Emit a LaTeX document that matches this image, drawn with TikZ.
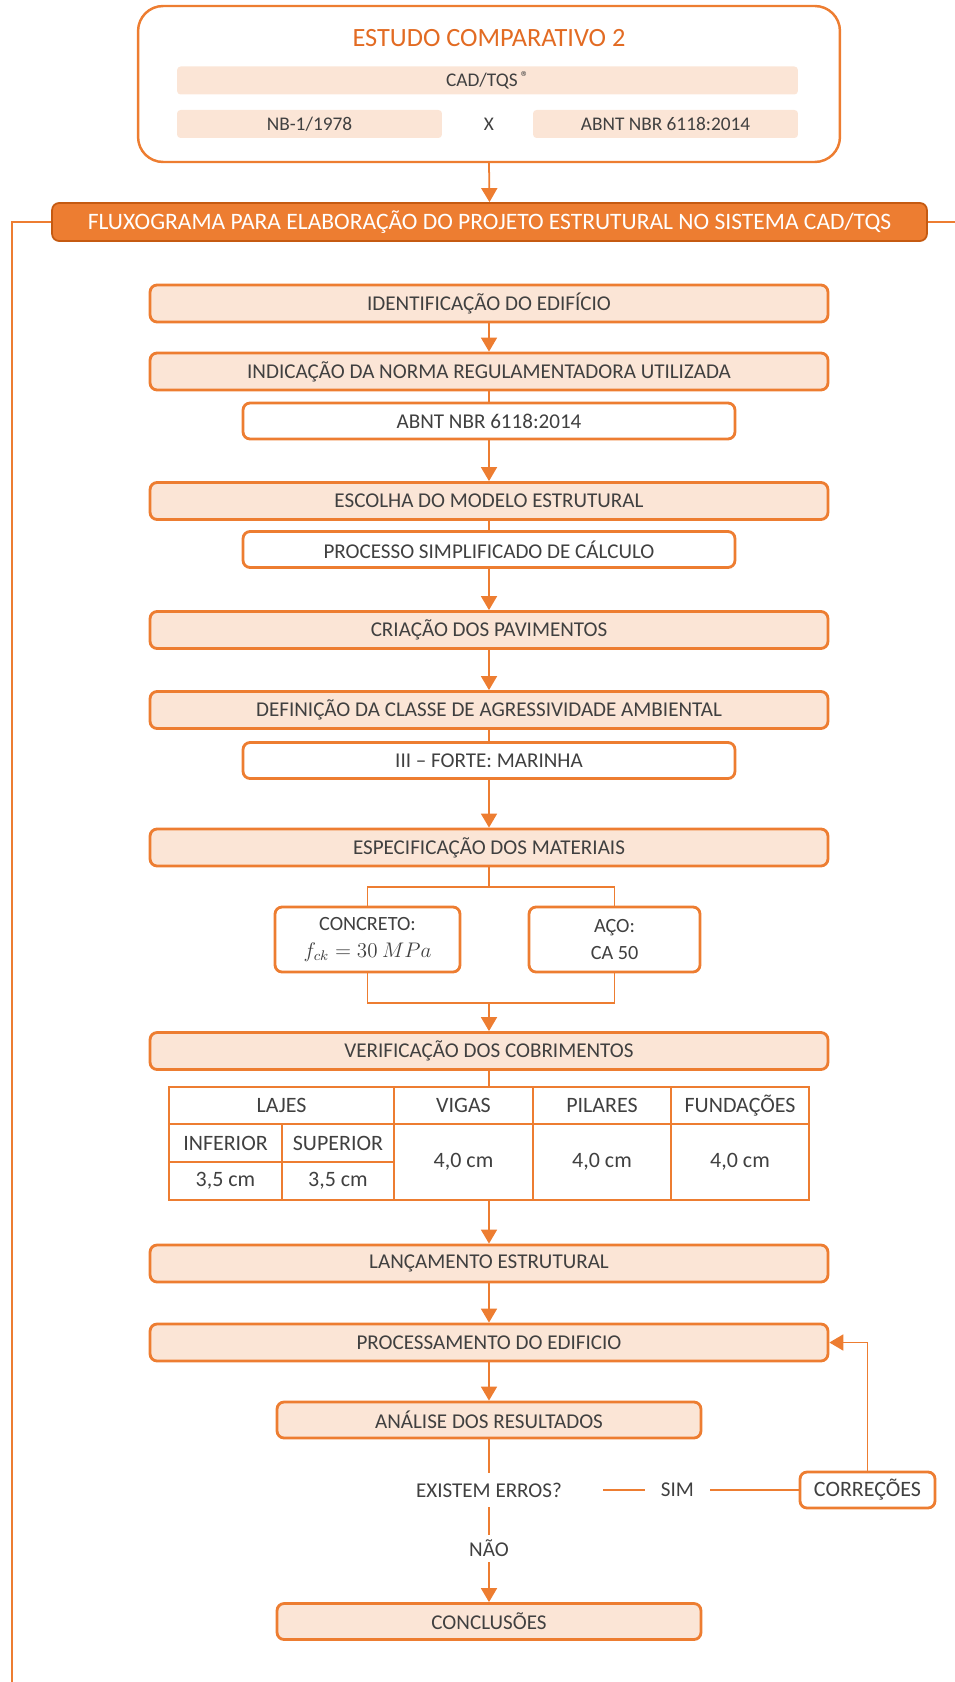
\documentclass[tikz,border=0pt]{standalone}
\usepackage{fontspec}
\setmainfont{Carlito}
\usetikzlibrary{arrows.meta}

\begin{document}
\begin{tikzpicture}[x=0.02cm, y=-0.02cm,
    linha/.style={draw=laranja, line width=1pt},
    seta/.style={linha, -{Triangle[width=0.32cm, length=0.28cm]}},
    trilho/.style={draw=laranja, line width=1.2pt},
    etapa/.style={draw=laranja, fill=laranjaclaro, line width=1.6pt, rounded corners=4pt,
        minimum width=13.56cm, minimum height=0.74cm, inner sep=0pt,
        text=textocinza, font=\fontsize{12}{14}\selectfont},
    subetapa/.style={etapa, fill=white, minimum width=9.84cm, minimum height=0.72cm},
    curta/.style={etapa, minimum width=8.48cm, minimum height=0.72cm},
    material/.style={etapa, fill=white, minimum height=1.3cm, align=center,
        font=\fontsize{11.5}{15}\selectfont},
    faixa/.style={fill=laranjaclaro, rounded corners=2pt, minimum height=0.56cm,
        inner sep=0pt, text=textocinza, font=\fontsize{11}{13}\selectfont},
    rotulo/.style={inner sep=0pt, text=textocinza, font=\fontsize{12}{14}\selectfont},
    celula/.style={inner sep=0pt, text=textocinza, font=\fontsize{12.5}{15}\selectfont},
    grade/.style={draw=laranja, line width=1.6pt}]

    % Define colors
    \definecolor{laranja}{RGB}{237,125,49}        % borders and lines
    \definecolor{laranjaclaro}{RGB}{251,229,214}  % light fill
    \definecolor{laranjaescuro}{RGB}{197,90,17}   % title bar border
    \definecolor{laranjatexto}{RGB}{226,107,35}   % heading text
    \definecolor{textocinza}{RGB}{64,64,64}       % box text

    \useasboundingbox (0,0) rectangle (955,1682);

    % Comparative study box
    \node[draw=laranja, line width=1.4pt, rounded corners=0.5cm,
        minimum width=14.04cm, minimum height=3.12cm] (topo) at (489,84) {};
    \node[text=laranjatexto, font=\fontsize{15}{18}\selectfont] (estudo) at (489,38) {ESTUDO COMPARATIVO 2};
    \node[faixa, minimum width=12.42cm] (cadtqs) at (487.5,80.5) {CAD/TQS\,\raisebox{0.5ex}{\small ®}};
    \node[faixa, minimum width=5.3cm] (nbum) at (309.5,124) {NB-1/1978};
    \node[rotulo, font=\fontsize{11}{13}\selectfont] (versus) at (489,124) {X};
    \node[faixa, minimum width=5.3cm] (nbr) at (665.5,124) {ABNT NBR 6118:2014};

    % Flowchart title bar and side rails
    \node[draw=laranjaescuro, fill=laranja, line width=1pt, rounded corners=4pt,
        minimum width=17.5cm, minimum height=0.76cm, inner sep=0pt,
        text=white, font=\fontsize{13.4}{15}\selectfont] (fluxo) at (489.5,222)
        {FLUXOGRAMA PARA ELABORAÇÃO DO PROJETO ESTRUTURAL NO SISTEMA CAD/TQS};
    \coordinate (trilhoesq) at (12,222);
    \coordinate (trilhofim) at (12,1682);
    \coordinate (trilhodir) at (955,222);
    \draw[trilho] (fluxo.west) -- (trilhoesq) -- (trilhofim);
    \draw[trilho] (fluxo.east) -- (trilhodir);

    % Main steps
    \foreach \nome/\y/\texto in {ident/303.5/IDENTIFICAÇÃO DO EDIFÍCIO,
        indic/371.5/INDICAÇÃO DA NORMA REGULAMENTADORA UTILIZADA,
        escolha/501/ESCOLHA DO MODELO ESTRUTURAL,
        criacao/630/CRIAÇÃO DOS PAVIMENTOS,
        defin/710/DEFINIÇÃO DA CLASSE DE AGRESSIVIDADE AMBIENTAL,
        espec/847.5/ESPECIFICAÇÃO DOS MATERIAIS,
        verif/1051/VERIFICAÇÃO DOS COBRIMENTOS,
        lanc/1263.5/LANÇAMENTO ESTRUTURAL,
        proc/1342.5/PROCESSAMENTO DO EDIFICIO}
        {
        \node[etapa] (\nome) at (489,\y) {\texto};
    }

    % Chosen options
    \foreach \nome/\y/\texto in {abnt/421/ABNT NBR 6118:2014,
        simpl/549.5/PROCESSO SIMPLIFICADO DE CÁLCULO,
        classe/760.5/III – FORTE: MARINHA}
        {
        \node[subetapa] (\nome) at (489,\y) {\texto};
    }

    % Materials
    \node[material, minimum width=3.7cm] (concreto) at (367.5,939.5) {CONCRETO:\\$f_{ck} = 30\ MPa$};
    \node[material, minimum width=3.42cm] (aco) at (614.5,939.5) {AÇO:\\CA 50};
    \coordinate (ramo) at (489,887);
    \coordinate (junta) at (489,1003);

    % Cover table
    \node[draw=laranja, line width=1.6pt, minimum width=12.8cm, minimum height=2.26cm,
        inner sep=0pt] (tabela) at (489,1143.5) {};
    \draw[grade] (169,1124) -- (809,1124);
    \draw[grade] (169,1162) -- (394,1162);
    \draw[grade] (282,1124) -- (282,1200);
    \foreach \x in {394,533,671}
        {
        \draw[grade] (\x,1087) -- (\x,1200);
    }
    \foreach \nome/\x/\y/\texto in {lajes/281.5/1105.5/LAJES, vigas/463.5/1105.5/VIGAS,
        pilares/602/1105.5/PILARES, fundacoes/740/1105.5/FUNDAÇÕES,
        inferior/225.5/1143/INFERIOR, superior/338/1143/SUPERIOR,
        lajeinf/225.5/1181/{3,5 cm}, lajesup/338/1181/{3,5 cm},
        cobvigas/463.5/1162/{4,0 cm}, cobpilares/602/1162/{4,0 cm},
        cobfund/740/1162/{4,0 cm}}
        {
        \node[celula] (\nome) at (\x,\y) {\texto};
    }

    % Analysis and conclusion
    \node[curta] (analise) at (489,1420) {ANÁLISE DOS RESULTADOS};
    \node[rotulo, minimum width=4.56cm, minimum height=0.68cm] (erros) at (489,1490) {EXISTEM ERROS?};
    \node[rotulo, minimum width=1.3cm] (sim) at (677.5,1490) {SIM};
    \node[rotulo, minimum height=0.54cm] (nao) at (489,1548.5) {NÃO};
    \node[etapa, fill=white, minimum width=2.7cm, minimum height=0.72cm,
        font=\fontsize{12.5}{14}\selectfont] (correcoes) at (867.5,1490) {CORREÇÕES};
    \node[curta] (conclusoes) at (489,1621.5) {CONCLUSÕES};

    % Connectors
    \draw[seta] (topo.south) -- (fluxo.north);
    \foreach \a/\b/\tipo in {ident/indic/seta, indic/abnt/linha, abnt/escolha/seta,
        escolha/simpl/linha, simpl/criacao/seta, criacao/defin/seta, defin/classe/linha,
        classe/espec/seta, verif/tabela/linha, tabela/lanc/seta, lanc/proc/seta,
        proc/analise/seta, analise/erros/linha, erros/nao/linha, nao/conclusoes/seta}
        {
        \draw[\tipo] (\a.south) -- (\b.north);
    }
    \draw[linha] (espec.south) -- (ramo);
    \draw[linha] (concreto.north) |- (ramo) -| (aco.north);
    \draw[linha] (concreto.south) |- (junta) -| (aco.south);
    \draw[seta] (junta) -- (verif.north);
    \draw[linha] (erros.east) -- (sim.west);
    \draw[linha] (sim.east) -- (correcoes.west);
    \draw[seta] (correcoes.north) |- (proc.east);
\end{tikzpicture}
\end{document}
